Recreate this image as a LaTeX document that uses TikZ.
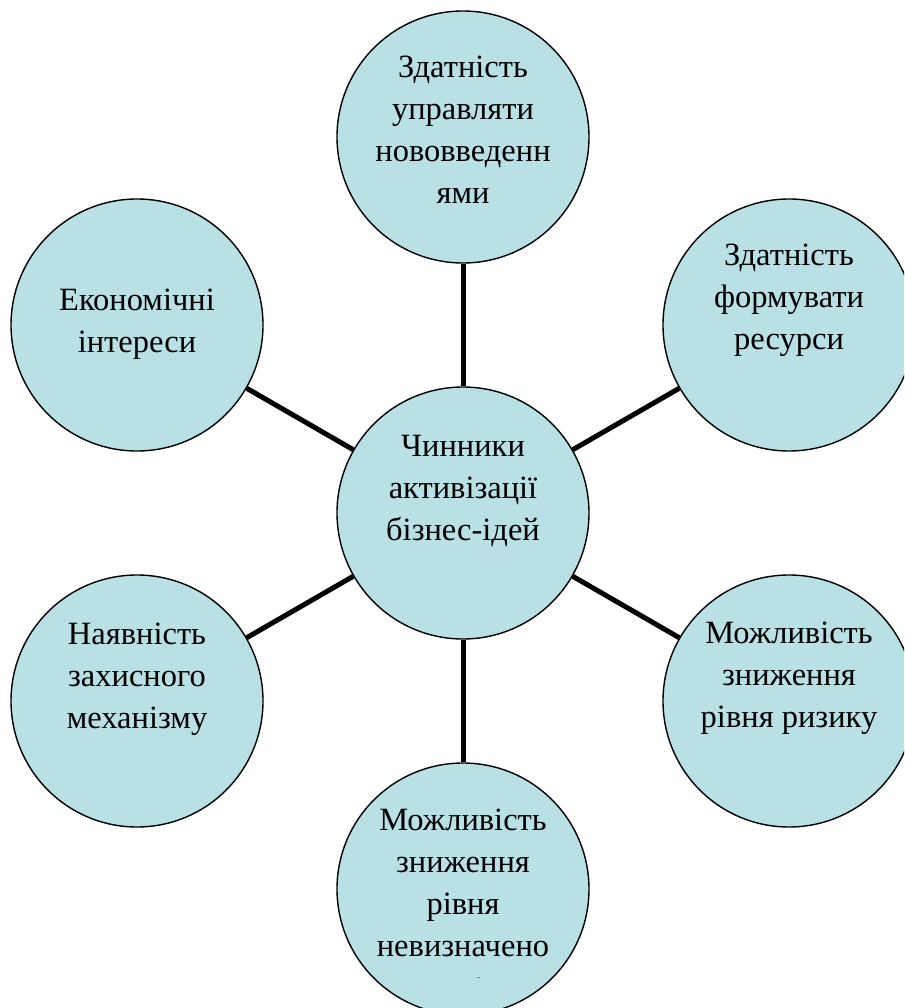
\documentclass[tikz,border=0pt]{standalone}
\usepackage{fontspec}
\setmainfont{Liberation Serif}
\newfontfamily\capfont{Liberation Serif}
\definecolor{bubble}{RGB}{185,224,228}
\tikzset{
  bubble/.style={circle, draw=black, line width=1.4pt, fill=bubble,
    minimum size=252pt, inner sep=0pt},
  caption/.style={align=center, anchor=base, inner sep=0pt,
    font=\capfont\fontsize{32.5}{42}\selectfont},
  spoke/.style={line width=5pt, black}
}
\begin{document}
\begin{tikzpicture}[x=1pt, y=-1pt]
\useasboundingbox (0,0) rectangle (904,1008);
\clip (0,0) rectangle (904,1008);
% hub and the six circles on a hexagon of radius 376
\node[bubble] (hub) at (463,513) {};
\node[bubble] (n)  at (463,137) {};
\node[bubble] (ne) at (789,325) {};
\node[bubble] (se) at (789,701) {};
\node[bubble] (s)  at (463,889) {};
\node[bubble] (sw) at (137,701) {};
\node[bubble] (nw) at (137,325) {};
% spokes from the hub to each circle
\foreach \c in {n,ne,se,s,sw,nw}
  \draw[spoke] (hub) -- (\c);
% captions, placed by the baseline of their last line
\node[caption] (thub) at (463,540) {Чинники\\активізації\\бізнес-ідей};
\node[caption] (tn)  at (463,204) {Здатність\\управляти\\нововведенн\\ями};
\node[caption] (tne) at (789,349) {Здатність\\формувати\\ресурси};
\node[caption] (tse) at (789,727) {Можливість\\зниження\\рівня ризику};
\node[caption] (ts)  at (463,956) {Можливість\\зниження\\рівня\\невизначено};
\node[caption] (tsw) at (137,728) {Наявність\\захисного\\механізму};
\node[caption] (tnw) at (137,352) {Економічні\\інтереси};
\draw[gray, line width=1pt] (476.5,977) -- (479.5,977);
\end{tikzpicture}
\end{document}
